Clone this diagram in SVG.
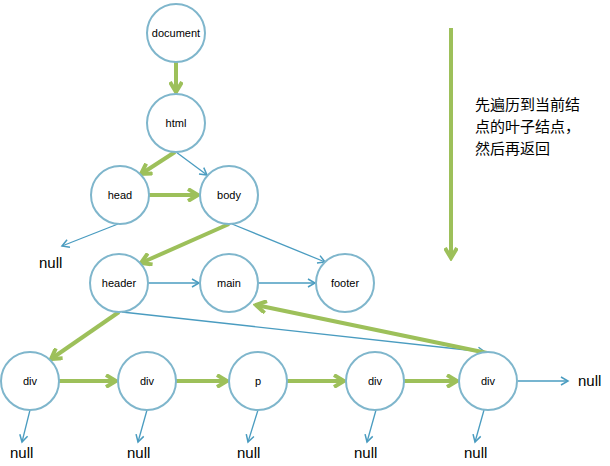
<svg xmlns="http://www.w3.org/2000/svg" width="610" height="466" viewBox="0 0 610 466">
<style>
.n{fill:#fff;stroke:#7fb6cc;stroke-width:2}
.t{font-family:"Liberation Sans",Arial,sans-serif;font-size:11px;text-anchor:middle;fill:#000}
.nl{font-family:"Liberation Sans",Arial,sans-serif;font-size:15px;fill:#000}
.b{stroke:#4a9cc0;stroke-width:1.3;fill:none;marker-end:url(#mb)}
.g{stroke:#9dc05a;stroke-width:4;fill:none;marker-end:url(#mg)}
.cn{font-family:"Noto Sans CJK SC",sans-serif;font-size:15px;fill:#000}
</style>
<defs>
<marker id="mb" markerWidth="10" markerHeight="10" refX="8" refY="5" orient="auto" markerUnits="userSpaceOnUse"><path d="M1,1 L8,5 L1,9" fill="none" stroke="#4a9cc0" stroke-width="1.5"/></marker>
<marker id="mg" markerWidth="14" markerHeight="14" refX="11" refY="7" orient="auto" markerUnits="userSpaceOnUse"><path d="M1,1 L11,7 L1,13" fill="none" stroke="#9dc05a" stroke-width="4"/></marker>
</defs>
<g id="connectors">
<line class="b" x1="176" y1="152" x2="207" y2="175"/>
<line class="b" x1="118" y1="224" x2="62" y2="246"/>
<line class="b" x1="232" y1="224" x2="325" y2="262"/>
<line class="b" x1="148" y1="283" x2="199" y2="283"/>
<line class="b" x1="258" y1="283" x2="315" y2="283"/>
<line class="b" x1="122" y1="312" x2="485" y2="352"/>
<line class="b" x1="30" y1="410" x2="22" y2="442"/>
<line class="b" x1="147" y1="410" x2="138" y2="442"/>
<line class="b" x1="258" y1="410" x2="248" y2="442"/>
<line class="b" x1="376" y1="410" x2="367" y2="442"/>
<line class="b" x1="484" y1="410" x2="475" y2="442"/>
<line class="b" x1="518" y1="381" x2="568" y2="381"/>
<line class="g" x1="176" y1="62" x2="176" y2="92"/>
<line class="g" x1="175" y1="152" x2="141" y2="174"/>
<line class="g" x1="149" y1="195" x2="198" y2="195"/>
<line class="g" x1="229" y1="224" x2="141" y2="263"/>
<line class="g" x1="119" y1="312" x2="51" y2="359"/>
<line class="g" x1="59" y1="381" x2="116" y2="381"/>
<line class="g" x1="176" y1="381" x2="227" y2="381"/>
<line class="g" x1="287" y1="381" x2="344" y2="381"/>
<line class="g" x1="404" y1="381" x2="457" y2="381"/>
<line class="g" x1="487" y1="353" x2="256" y2="305"/>
<line class="g" x1="451" y1="28" x2="451" y2="258"/>
</g>
<g id="document"><circle class="n" cx="176" cy="33" r="29"/><text class="t" x="176" y="37" font-size="10">document</text></g>
<g id="html"><circle class="n" cx="176" cy="123" r="29"/><text class="t" x="176" y="127">html</text></g>
<g id="head"><circle class="n" cx="120" cy="195" r="29"/><text class="t" x="120" y="199">head</text></g>
<g id="body"><circle class="n" cx="229" cy="195" r="29"/><text class="t" x="229" y="199">body</text></g>
<g id="header"><circle class="n" cx="119" cy="283" r="29"/><text class="t" x="119" y="287">header</text></g>
<g id="main"><circle class="n" cx="229" cy="283" r="29"/><text class="t" x="229" y="287">main</text></g>
<g id="footer"><circle class="n" cx="345" cy="283" r="29"/><text class="t" x="345" y="287">footer</text></g>
<g id="div1"><circle class="n" cx="30" cy="381" r="29"/><text class="t" x="30" y="385">div</text></g>
<g id="div2"><circle class="n" cx="147" cy="381" r="29"/><text class="t" x="147" y="385">div</text></g>
<g id="p"><circle class="n" cx="258" cy="381" r="29"/><text class="t" x="258" y="385">p</text></g>
<g id="div4"><circle class="n" cx="375" cy="381" r="29"/><text class="t" x="375" y="385">div</text></g>
<g id="div5"><circle class="n" cx="488" cy="381" r="29"/><text class="t" x="488" y="385">div</text></g>
<g id="labels">
<text class="nl" x="39" y="268">null</text>
<text class="nl" x="10" y="458">null</text>
<text class="nl" x="127" y="458">null</text>
<text class="nl" x="237" y="458">null</text>
<text class="nl" x="354" y="458">null</text>
<text class="nl" x="464" y="458">null</text>
<text class="nl" x="578" y="386">null</text>
<text class="cn" x="475" y="110">先遍历到当前结</text>
<text class="cn" x="475" y="132">点的叶子结点，</text>
<text class="cn" x="475" y="154">然后再返回</text>
</g>
</svg>
